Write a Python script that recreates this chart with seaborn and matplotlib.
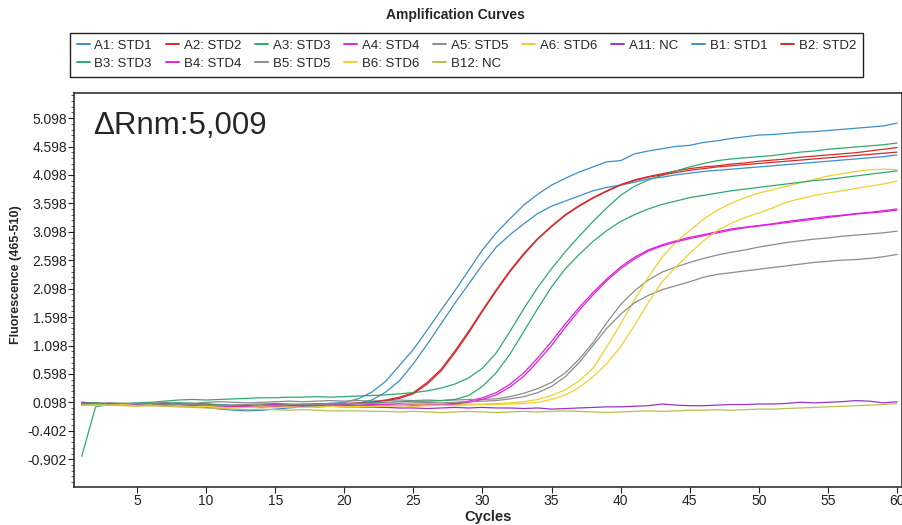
import numpy as np
import pandas as pd
import matplotlib
matplotlib.use('Agg')
import matplotlib.pyplot as plt
from matplotlib.lines import Line2D
from matplotlib.ticker import FixedLocator
import seaborn as sns

# fluorescence (465-510) per cycle
cycles = list(range(1, 61))

A1 = [0.10,0.08,0.07,0.06,0.06,0.07,0.08,0.07,0.06,0.05,
      0.03,0.02,0.02,0.03,0.04,0.05,0.06,0.07,0.08,0.10,
      0.16,0.28,0.47,0.75,1.03,1.37,1.72,2.06,2.42,2.78,
      3.08,3.33,3.57,3.76,3.92,4.04,4.15,4.24,4.33,4.35,
      4.47,4.52,4.56,4.60,4.62,4.67,4.70,4.74,4.77,4.80,
      4.81,4.83,4.85,4.86,4.88,4.90,4.92,4.94,4.96,5.01]
A2 = [0.08,0.09,0.07,0.06,0.07,0.06,0.07,0.08,0.06,0.07,
      0.05,0.04,0.03,0.05,0.06,0.05,0.06,0.07,0.07,0.08,
      0.09,0.11,0.14,0.19,0.27,0.45,0.68,1.00,1.35,1.72,
      2.08,2.42,2.72,2.98,3.20,3.40,3.56,3.70,3.82,3.93,
      4.01,4.07,4.12,4.17,4.21,4.24,4.26,4.29,4.31,4.34,
      4.36,4.38,4.41,4.43,4.45,4.47,4.49,4.52,4.55,4.58]
A3 = [0.10,0.09,0.08,0.08,0.09,0.10,0.12,0.14,0.15,0.14,
      0.15,0.16,0.17,0.18,0.18,0.19,0.19,0.20,0.19,0.20,
      0.21,0.22,0.23,0.25,0.27,0.30,0.35,0.42,0.53,0.70,
      0.97,1.35,1.75,2.12,2.45,2.75,3.02,3.28,3.52,3.74,
      3.90,4.01,4.09,4.17,4.24,4.30,4.35,4.38,4.40,4.42,
      4.44,4.47,4.50,4.52,4.55,4.57,4.59,4.61,4.63,4.66]
A4 = [0.07,0.08,0.06,0.07,0.05,0.06,0.07,0.05,0.04,0.06,
      0.05,0.03,0.04,0.05,0.06,0.04,0.05,0.06,0.05,0.04,
      0.05,0.06,0.05,0.04,0.06,0.07,0.06,0.08,0.12,0.18,
      0.27,0.42,0.62,0.88,1.17,1.48,1.77,2.03,2.27,2.48,
      2.65,2.78,2.87,2.94,3.00,3.05,3.10,3.15,3.18,3.21,
      3.24,3.28,3.31,3.34,3.37,3.39,3.42,3.44,3.47,3.50]
A5 = [0.08,0.07,0.09,0.08,0.07,0.08,0.10,0.09,0.08,0.10,
      0.11,0.10,0.09,0.10,0.11,0.12,0.11,0.12,0.13,0.12,
      0.13,0.12,0.13,0.14,0.13,0.14,0.13,0.14,0.15,0.15,
      0.16,0.20,0.26,0.34,0.45,0.62,0.86,1.15,1.50,1.82,
      2.06,2.25,2.39,2.48,2.56,2.63,2.69,2.74,2.78,2.83,
      2.87,2.91,2.94,2.97,2.99,3.02,3.04,3.06,3.08,3.11]
A6 = [0.07,0.06,0.05,0.06,0.05,0.04,0.05,0.04,0.03,0.04,
      0.03,0.02,0.03,0.04,0.03,0.02,0.03,0.02,0.03,0.04,
      0.03,0.04,0.05,0.04,0.05,0.06,0.05,0.06,0.07,0.07,
      0.08,0.09,0.11,0.15,0.22,0.32,0.48,0.70,1.08,1.48,
      1.90,2.30,2.65,2.92,3.12,3.32,3.48,3.60,3.70,3.78,
      3.84,3.90,3.96,4.02,4.08,4.12,4.16,4.19,4.20,4.19]
A11 = [0.08,0.07,0.06,0.06,0.05,0.06,0.05,0.04,0.03,0.04,
       0.05,0.04,0.03,0.02,0.03,0.04,0.03,0.02,0.03,0.02,
       0.02,0.01,0.01,0.00,0.00,-0.01,0.00,0.01,0.00,0.01,
       0.00,0.00,-0.01,0.00,-0.02,-0.01,0.00,0.01,0.02,0.02,
       0.03,0.04,0.07,0.05,0.04,0.04,0.05,0.06,0.06,0.07,
       0.07,0.08,0.10,0.09,0.10,0.11,0.13,0.12,0.09,0.11]
B1 = [0.06,0.07,0.06,0.05,0.06,0.07,0.06,0.05,0.03,0.01,
      -0.02,-0.04,-0.05,-0.04,-0.02,0.00,0.02,0.04,0.05,0.06,
      0.08,0.14,0.28,0.48,0.78,1.12,1.48,1.84,2.18,2.52,
      2.83,3.05,3.24,3.42,3.55,3.64,3.73,3.82,3.88,3.92,
      3.97,4.03,4.06,4.10,4.13,4.16,4.18,4.20,4.22,4.24,
      4.26,4.28,4.30,4.32,4.34,4.36,4.38,4.40,4.42,4.45]
B2 = [0.05,0.06,0.07,0.08,0.06,0.05,0.06,0.07,0.08,0.06,
      0.04,0.03,0.04,0.02,0.03,0.05,0.04,0.05,0.06,0.07,
      0.08,0.10,0.13,0.17,0.25,0.42,0.65,0.97,1.32,1.70,
      2.06,2.40,2.70,2.97,3.19,3.39,3.55,3.69,3.81,3.92,
      4.00,4.06,4.10,4.14,4.18,4.21,4.24,4.26,4.28,4.30,
      4.32,4.34,4.36,4.38,4.40,4.42,4.44,4.46,4.48,4.50]
B3 = [-0.85,0.02,0.06,0.07,0.06,0.08,0.07,0.09,0.08,0.07,
      0.06,0.05,0.06,0.07,0.08,0.07,0.06,0.07,0.08,0.07,
      0.08,0.09,0.10,0.11,0.12,0.12,0.13,0.15,0.22,0.38,
      0.62,0.95,1.35,1.75,2.13,2.45,2.70,2.93,3.12,3.28,
      3.40,3.50,3.58,3.64,3.70,3.74,3.78,3.82,3.85,3.88,
      3.91,3.94,3.97,4.00,4.02,4.05,4.08,4.11,4.14,4.17]
B4 = [0.09,0.07,0.08,0.06,0.07,0.05,0.04,0.06,0.05,0.03,
      0.02,0.04,0.03,0.02,0.04,0.03,0.04,0.05,0.06,0.05,
      0.04,0.05,0.06,0.05,0.04,0.05,0.06,0.07,0.10,0.15,
      0.23,0.37,0.56,0.82,1.10,1.42,1.72,1.99,2.24,2.45,
      2.62,2.76,2.85,2.92,2.98,3.03,3.08,3.13,3.17,3.20,
      3.23,3.26,3.29,3.32,3.35,3.38,3.41,3.43,3.45,3.48]
B5 = [0.06,0.07,0.06,0.07,0.08,0.06,0.05,0.07,0.06,0.05,
      0.04,0.05,0.06,0.05,0.04,0.06,0.07,0.06,0.07,0.08,
      0.07,0.08,0.09,0.08,0.09,0.10,0.09,0.10,0.11,0.12,
      0.13,0.16,0.20,0.27,0.38,0.55,0.80,1.10,1.40,1.65,
      1.85,1.98,2.08,2.15,2.22,2.30,2.35,2.38,2.41,2.44,
      2.47,2.50,2.53,2.56,2.58,2.60,2.61,2.63,2.66,2.70]
B6 = [0.05,0.04,0.05,0.06,0.04,0.05,0.03,0.04,0.02,0.03,
      0.01,0.00,0.01,0.02,0.01,0.02,0.01,0.02,0.03,0.02,
      0.03,0.02,0.03,0.04,0.03,0.04,0.05,0.04,0.05,0.06,
      0.06,0.07,0.08,0.10,0.15,0.23,0.36,0.55,0.78,1.08,
      1.45,1.85,2.22,2.48,2.72,2.94,3.12,3.25,3.35,3.43,
      3.52,3.62,3.68,3.74,3.78,3.82,3.86,3.90,3.94,3.99]
B12 = [0.05,0.06,0.05,0.04,0.03,0.04,0.03,0.02,0.01,0.00,
       -0.01,-0.02,-0.03,-0.02,-0.03,-0.04,-0.03,-0.04,-0.05,-0.05,
       -0.05,-0.06,-0.06,-0.07,-0.06,-0.07,-0.08,-0.07,-0.06,-0.07,
       -0.08,-0.07,-0.06,-0.07,-0.06,-0.05,-0.06,-0.07,-0.08,-0.07,
       -0.06,-0.05,-0.06,-0.05,-0.04,-0.04,-0.03,-0.04,-0.03,-0.02,
       -0.02,-0.01,0.00,0.01,0.02,0.03,0.04,0.05,0.06,0.08]

wells = ['A1: STD1', 'A2: STD2', 'A3: STD3', 'A4: STD4', 'A5: STD5', 'A6: STD6',
         'A11: NC', 'B1: STD1', 'B2: STD2', 'B3: STD3', 'B4: STD4', 'B5: STD5',
         'B6: STD6', 'B12: NC']
series = [A1, A2, A3, A4, A5, A6, A11, B1, B2, B3, B4, B5, B6, B12]
colors = ['#3b8fc8', '#d42a2a', '#2eaa6e', '#dd22dd', '#8c8c8c', '#f0d030',
          '#9a35c8', '#3b8fc8', '#d42a2a', '#2eaa6e', '#dd22dd', '#8c8c8c',
          '#f0d030', '#b8c050']
yticks = [-0.902, -0.402, 0.098, 0.598, 1.098, 1.598, 2.098, 2.598,
          3.098, 3.598, 4.098, 4.598, 5.098]

df = pd.DataFrame({
    'Cycle': cycles * len(wells),
    'Fluorescence': [v for s in series for v in s],
    'Well': [w for w in wells for _ in cycles],
})
palette = dict(zip(wells, colors))

sns.set_style('white')
plt.rcParams['font.family'] = ['Liberation Sans', 'DejaVu Sans']

fig = plt.figure(figsize=(9.03, 5.25), dpi=100)
ax = fig.add_axes([74/903, 38/525, 828/903, 394/525])

sns.lineplot(data=df, x='Cycle', y='Fluorescence', hue='Well', palette=palette,
             hue_order=wells, estimator=None, sort=False, linewidth=0.9,
             legend=False, ax=ax)

ax.set_xlim(0.44, 60.36)
ax.set_ylim(-1.39, 5.54)
ax.set_xticks(range(5, 61, 5))
ax.yaxis.set_major_locator(FixedLocator(yticks))
ax.set_yticklabels(['%.3f' % t for t in yticks])
ax.yaxis.set_minor_locator(FixedLocator(np.arange(-1.302, 5.5, 0.1)))
ax.tick_params(axis='both', which='major', direction='out', length=4, width=0.8,
               labelsize=10, colors='#222222', pad=1, left=True, bottom=True)
ax.tick_params(axis='y', which='minor', direction='out', length=2, width=0.6,
               colors='#444444', left=True)
for sp in ax.spines.values():
    sp.set_visible(True)
    sp.set_color('#222222')
    sp.set_linewidth(1.1)

ax.set_xlabel('')
ax.set_ylabel('')
fig.text(488/903, 1 - 517/525, 'Cycles', ha='center', va='center',
         fontsize=10.5, fontweight='bold')
fig.text(16/903, 1 - 275/525, 'Fluorescence (465-510)', ha='center', va='center',
         rotation=90, fontsize=9, fontweight='bold')
fig.text(455/903, 1 - 15/525, 'Amplification Curves', ha='center', va='center',
         fontsize=10, fontweight='bold')
ax.text(0.023, 0.915, '\u0394Rnm:5,009', transform=ax.transAxes,
        ha='left', va='center', fontsize=22.5)

# legend: 9 columns, filled row by row like the instrument software
handles = [Line2D([0], [0], color=c, lw=1.4) for c in colors]
order = [0, 9, 1, 10, 2, 11, 3, 12, 4, 13, 5, 6, 7, 8]
leg = fig.legend([handles[i] for i in order], [wells[i] for i in order],
                 loc='upper left', bbox_to_anchor=(70/903, 1 - 33/525), ncol=9,
                 fontsize=9.5, handlelength=1.0, handletextpad=0.35,
                 columnspacing=1.05, labelspacing=0.45, borderpad=0.5,
                 borderaxespad=0, frameon=True, fancybox=False, framealpha=1,
                 edgecolor='#222222')
leg.get_frame().set_linewidth(1.0)

fig.savefig('out.png', dpi=100)
